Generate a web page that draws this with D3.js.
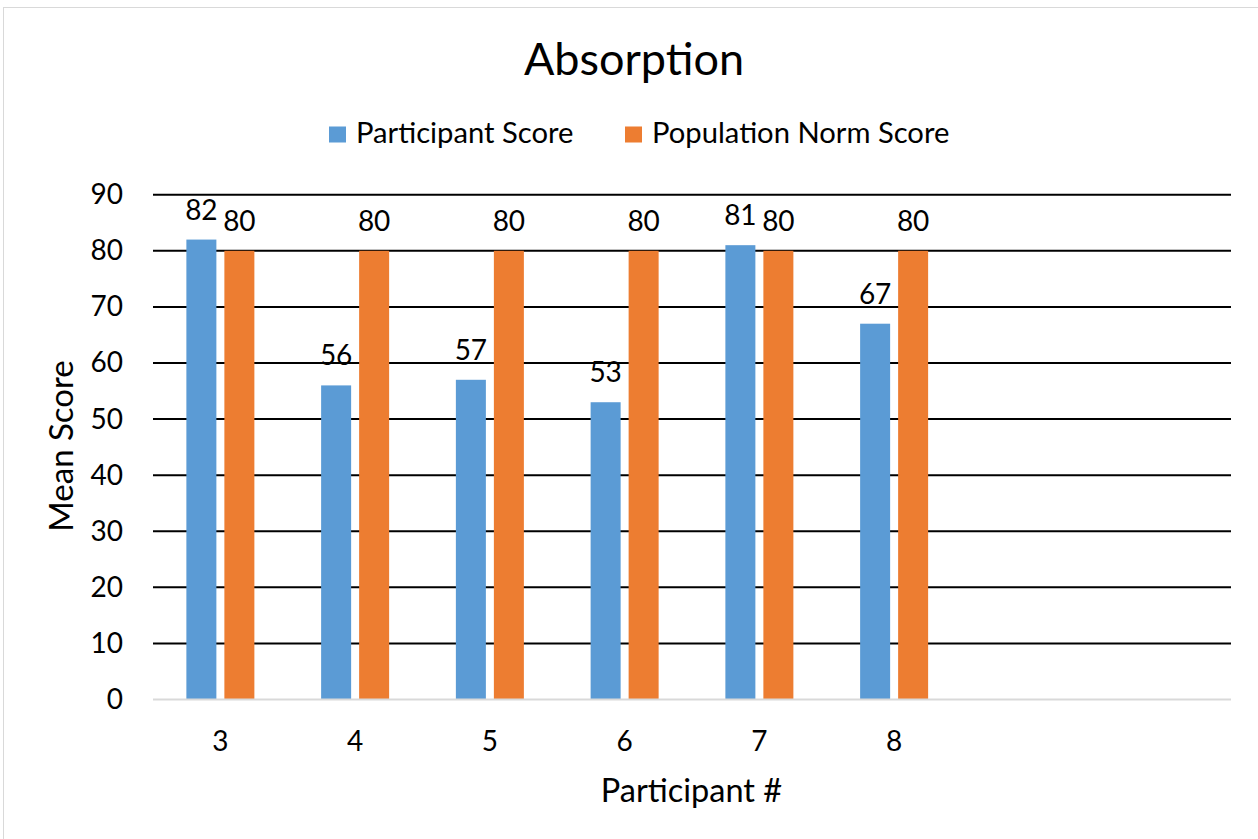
<!DOCTYPE html>
<html><head><meta charset="utf-8">
<script src="https://cdn.jsdelivr.net/npm/d3@7"></script>
<style>body{margin:0;background:#fff}svg{display:block}text{font-family:Lato,"Open Sans",sans-serif;fill:#000}</style>
</head><body><svg id="c" width="1258" height="839"></svg>
<script>
const categories = ["3","4","5","6","7","8","",""];
const participantScore = [82,56,57,53,81,67,null,null];
const populationNorm = [80,80,80,80,80,80,null,null];
const seriesNames = ["Participant Score","Population Norm Score"];
const colors = ["#5b9bd5","#ed7d31"];
const yTicks = [0,10,20,30,40,50,60,70,80,90];

const svg = d3.select("#c");
svg.append("rect").attr("x",3.5).attr("y",7.5).attr("width",1262).attr("height",840).attr("fill","#fff").attr("stroke","#d9d9d9");

const pL=153,pR=1231,pT=194.7,pB=699.5;
const x = d3.scaleBand().domain(d3.range(categories.length)).range([pL,pR]);
const y = d3.scaleLinear().domain([0,90]).range([pB,pT]);
const bw = 30, gap = 8;

// gridlines
svg.append("g").selectAll("line").data(yTicks.filter(t=>t>0)).join("line")
  .attr("x1",pL).attr("x2",pR).attr("y1",d=>y(d)).attr("y2",d=>y(d))
  .attr("stroke","#000").attr("stroke-width",2);

// y axis labels
const yAxis = d3.axisLeft(y).tickValues(yTicks).tickSize(0).tickPadding(30);
const ga = svg.append("g").attr("transform",`translate(${pL},0)`).call(yAxis);
ga.select(".domain").remove();
ga.selectAll("text").style("font-size","28px").style("font-family","Lato, 'Open Sans', sans-serif").attr("fill","#000");

const series = [participantScore, populationNorm];
series.forEach((vals,si)=>{
  const off = si===0 ? -gap/2-bw : gap/2;
  const data = vals.map((v,i)=>({v,i})).filter(d=>d.v!=null);
  svg.append("g").selectAll("rect").data(data).join("rect")
    .attr("x",d=>x(d.i)+x.bandwidth()/2+off).attr("width",bw)
    .attr("y",d=>y(d.v)).attr("height",d=>y(0)-y(d.v))
    .attr("fill",colors[si]);
  svg.append("g").selectAll("text").data(data).join("text")
    .attr("x",d=>x(d.i)+x.bandwidth()/2+off+bw/2).attr("y",d=>y(d.v)-20)
    .attr("text-anchor","middle").style("font-size","28px").text(d=>d.v);
});

// zero axis line
svg.append("line").attr("x1",pL).attr("x2",pR).attr("y1",y(0)).attr("y2",y(0))
  .attr("stroke","#d9d9d9").attr("stroke-width",2);

// x axis labels
const xAxis = d3.axisBottom(x).tickFormat(i=>categories[i]).tickSize(0).tickPadding(32);
const gx = svg.append("g").attr("transform",`translate(0,${pB})`).call(xAxis);
gx.select(".domain").remove();
gx.selectAll("text").style("font-size","28px").style("font-family","Lato, 'Open Sans', sans-serif").attr("fill","#000");

// titles
svg.append("text").attr("x",634).attr("y",75).attr("text-anchor","middle").style("font-size","45px").text("Absorption");
svg.append("text").attr("x",691.5).attr("y",801.5).attr("text-anchor","middle").style("font-size","32.5px").text("Participant #");
svg.append("text").attr("transform","translate(73,446) rotate(-90)").attr("text-anchor","middle").style("font-size","33px").text("Mean Score");

// legend
const legX = [329, 625];
seriesNames.forEach((n,i)=>{
  svg.append("rect").attr("x",legX[i]).attr("y",126.5).attr("width",17).attr("height",16).attr("fill",colors[i]);
  svg.append("text").attr("x",legX[i]+27).attr("y",143.3).style("font-size","29.2px").text(n);
});
</script></body></html>
